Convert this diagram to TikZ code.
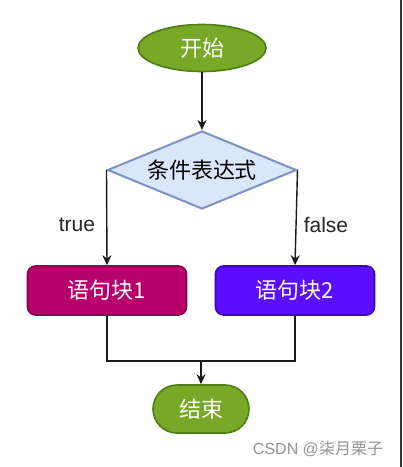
\documentclass[tikz,border=0pt]{standalone}
\usepackage{fontspec}
\setmainfont{Liberation Sans}
\newfontfamily\cjk{Noto Sans CJK SC}
\usetikzlibrary{shapes.geometric,arrows.meta}
\definecolor{gfill}{HTML}{78A827}
\definecolor{gdraw}{HTML}{4F7D12}
\definecolor{dfill}{HTML}{DAE6FC}
\definecolor{ddraw}{HTML}{7D92C2}
\definecolor{mfill}{HTML}{B7006B}
\definecolor{mdraw}{HTML}{8C0049}
\definecolor{pfill}{HTML}{5C0FFF}
\definecolor{pdraw}{HTML}{3A00CC}
\tikzset{
  lbl/.style={font=\cjk\fontsize{22}{24}\selectfont, text=white, inner sep=0pt},
  termnode/.style={lbl, draw=gdraw, fill=gfill, line width=1.6pt},
  condnode/.style={diamond, aspect=2.4, draw=ddraw, fill=dfill, line width=2pt, inner sep=0pt,
     minimum width=189pt, minimum height=78pt, font=\cjk\fontsize{22}{24}\selectfont, text=black},
  blocknode/.style={lbl, rectangle, rounded corners=8pt, line width=1.6pt, minimum width=159pt, minimum height=49pt},
  conn/.style={line width=1.4pt, draw=black!90},
  arr/.style={conn, -{Stealth[length=10pt,width=9pt]}},
  branch/.style={font=\fontsize{21}{24}\selectfont, text=black!85, inner sep=0pt},
}
\begin{document}
\begin{tikzpicture}[x=1pt,y=-1pt]
\useasboundingbox (0,0) rectangle (403,467);
\fill[white] (0,0) rectangle (403,467);
\draw[line width=2pt, black!80] (401,0) -- (401,467);
\node[termnode, ellipse, minimum width=128pt, minimum height=47pt] (start) at (202,48) {开始};
\node[condnode] (cond) at (202,170) {条件表达式};
\node[blocknode, fill=mfill, draw=mdraw] (b1) at (107,290.5) {语句块1};
\node[blocknode, fill=pfill, draw=pdraw] (b2) at (295,290.5) {语句块2};
\node[termnode, rectangle, rounded corners=24pt, minimum width=96pt, minimum height=48pt] (stop) at (201,409) {结束};
\coordinate (j) at (201,361);
\node[branch] (t) at (77,225) {true};
\node[branch] (f) at (326,225) {false};
\node[font=\fontsize{16}{18}\selectfont, text=black!42, inner sep=0pt] (wm) at (318,449) {CSDN @{\cjk 柒月栗子}};
\draw[arr] (start) -- (cond);
\draw[arr] (cond.west) -- (b1.north);
\draw[arr] (cond.east) -- (b2.north);
\draw[conn] (b1.south) |- (j) -| (b2.south);
\draw[arr] (j) -- (stop.north);
\end{tikzpicture}
\end{document}
